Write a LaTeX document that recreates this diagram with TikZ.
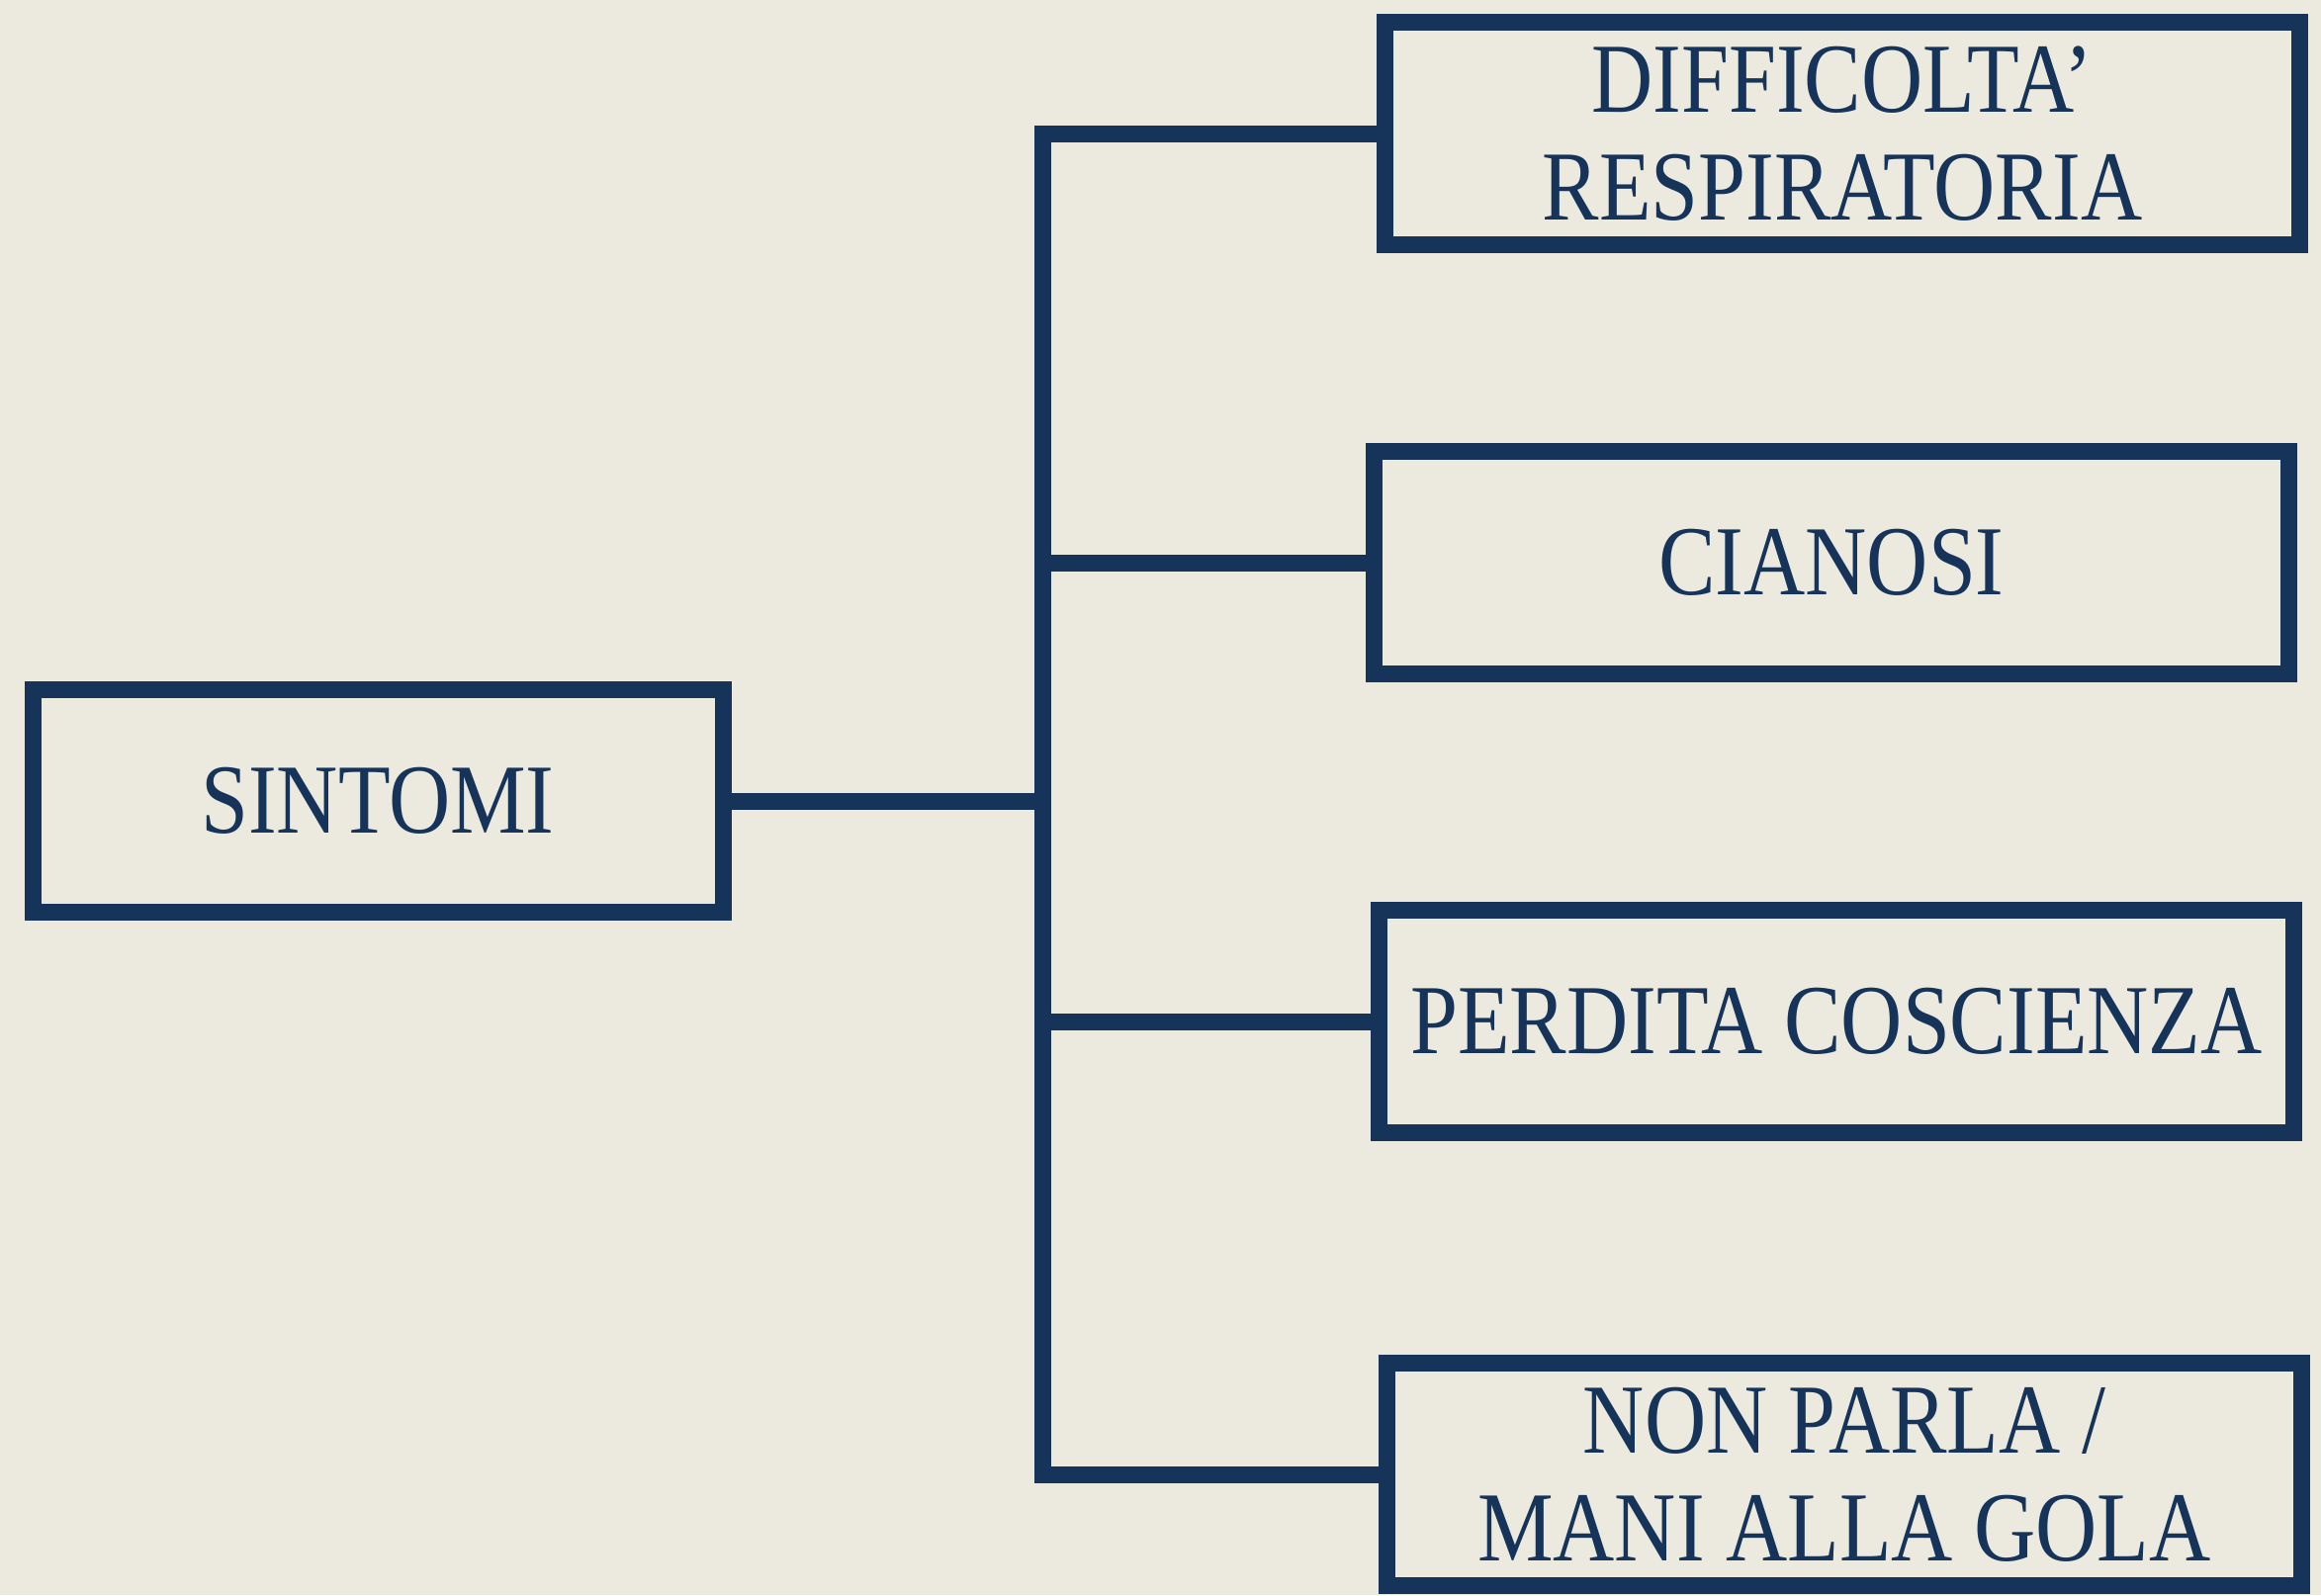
\documentclass[tikz,border=0pt]{standalone}
\usepackage{fontspec}
\setmainfont{Liberation Serif}[FakeStretch=0.86]
\usepackage{tikz}
\usetikzlibrary{arrows,shapes,positioning}

\definecolor{paper}{HTML}{ECEADE}
\definecolor{navy}{HTML}{16335A}

\tikzset{
  symbox/.style={draw=navy, line width=0.17cm, minimum width=9.25cm, minimum height=2.25cm,
    text=navy, align=center, inner sep=0pt,
    font=\fontsize{28.5}{31}\selectfont},
  link/.style={draw=navy, line width=0.17cm, line cap=square}
}

\begin{document}
\begin{tikzpicture}
  \fill[paper] (0,0) rectangle (23.47,-16.13);
  \useasboundingbox (0,0) rectangle (23.47,-16.13);

  \node[symbox, minimum width=6.98cm] (sintomi) at (3.82,-8.10) {SINTOMI};

  \node[symbox] (diff) at (18.63,-1.35) {DIFFICOLTA’\\RESPIRATORIA};
  \node[symbox] (cian) at (18.52,-5.69) {CIANOSI};
  \node[symbox] (perd) at (18.57,-10.33) {PERDITA COSCIENZA};
  \node[symbox] (gola) at (18.65,-14.91) {NON PARLA /\\MANI ALLA GOLA};

  \coordinate (trunk) at (10.54,-8.13);

  \draw[link] (sintomi.east) -- (sintomi.east -| trunk);
  \draw[link] (diff.west) -- (diff.west -| trunk) -- (gola.west -| trunk) -- (gola.west);
  \draw[link] (cian.west) -- (cian.west -| trunk);
  \draw[link] (perd.west) -- (perd.west -| trunk);
\end{tikzpicture}
\end{document}
